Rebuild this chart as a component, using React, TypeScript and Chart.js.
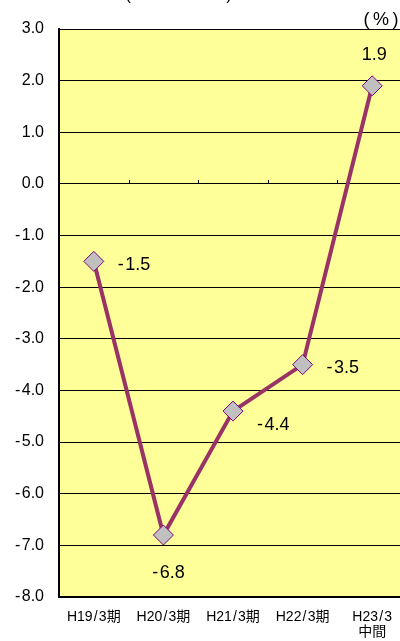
import { useEffect, useRef } from 'react';
import { Chart, registerables } from 'chart.js';

Chart.register(...registerables);

// Fiscal periods and the growth rate (%) for each
const periods: (string | string[])[] = ['H19/3期', 'H20/3期', 'H21/3期', 'H22/3期', ['H23/3', '中間']];
const growthRates = [-1.5, -6.8, -4.4, -3.5, 1.9];
const yMin = -8;
const yMax = 3;
const unitLabel = '(\u2009%\u2009)';

const FONT = 'Arial, "Liberation Sans", "Noto Sans CJK JP", sans-serif';

const fmt = (v: number) => (v < 0 ? '-\u200A' + Math.abs(v).toFixed(1) : v.toFixed(1));
const spaced = (s: string) => s.replace('/', '\u200A/\u200A');

// where each value label sits relative to its marker
const labelPlacement: { dx: number; dy: number; align: CanvasTextAlign }[] = [
  { dx: 24, dy: 4, align: 'left' },
  { dx: 5, dy: 38, align: 'center' },
  { dx: 24, dy: 14, align: 'left' },
  { dx: 24, dy: 3, align: 'left' },
  { dx: 2, dy: -31, align: 'center' },
];

const plotBackground = {
  id: 'plotBackground',
  beforeDraw(chart: Chart) {
    const { ctx, chartArea } = chart;
    ctx.save();
    ctx.fillStyle = '#FFFF99';
    ctx.fillRect(chartArea.left, chartArea.top, chartArea.right - chartArea.left, chartArea.bottom - chartArea.top);
    ctx.restore();
  },
};

const zeroAxisTicks = {
  id: 'zeroAxisTicks',
  beforeDatasetsDraw(chart: Chart) {
    const { ctx, chartArea, scales } = chart;
    const y0 = scales.y.getPixelForValue(0);
    const n = periods.length;
    const w = (chartArea.right - chartArea.left) / n;
    ctx.save();
    ctx.strokeStyle = '#000';
    ctx.lineWidth = 1;
    ctx.beginPath();
    for (let i = 1; i < n; i++) {
      const x = Math.round(chartArea.left + i * w) + 0.5;
      ctx.moveTo(x, y0 - 4);
      ctx.lineTo(x, y0);
    }
    ctx.stroke();
    ctx.restore();
  },
};

const valueLabels = {
  id: 'valueLabels',
  afterDatasetsDraw(chart: Chart) {
    const { ctx } = chart;
    const meta = chart.getDatasetMeta(0);
    ctx.save();
    ctx.fillStyle = '#000';
    ctx.font = `18px ${FONT}`;
    ctx.textBaseline = 'middle';
    meta.data.forEach((pt: any, i: number) => {
      const p = labelPlacement[i];
      ctx.textAlign = p.align;
      ctx.fillText(fmt(growthRates[i]), pt.x + p.dx, pt.y + p.dy);
    });
    ctx.restore();
  },
};

const captions = {
  id: 'captions',
  afterDraw(chart: Chart) {
    const { ctx } = chart;
    ctx.save();
    ctx.fillStyle = '#000';
    ctx.font = `18px ${FONT}`;
    ctx.textBaseline = 'middle';
    ctx.textAlign = 'center';
    ctx.fillText(unitLabel, 381, 20);
    ctx.font = `17px ${FONT}`;
    ctx.textBaseline = 'alphabetic';
    ctx.fillText('(', 128, 0);
    ctx.fillText(')', 229, 0);
    ctx.restore();
  },
};

export default function App() {
  const ref = useRef<HTMLCanvasElement | null>(null);

  useEffect(() => {
    if (!ref.current) return;
    const chart = new Chart(ref.current, {
      type: 'line',
      data: {
        labels: periods,
        datasets: [
          {
            data: growthRates,
            borderColor: '#993366',
            borderWidth: 4,
            pointStyle: 'rectRot',
            pointRadius: 10,
            pointBackgroundColor: '#C0C0C0',
            pointBorderColor: '#800080',
            pointBorderWidth: 1,
            tension: 0,
          },
        ],
      },
      options: {
        responsive: false,
        animation: false,
        devicePixelRatio: 1,
        layout: { autoPadding: false, padding: { top: 29, right: 0, left: 0, bottom: 0 } },
        plugins: {
          legend: { display: false },
          tooltip: { enabled: false },
        },
        scales: {
          x: {
            type: 'category',
            offset: true,
            grid: { display: false, drawTicks: false },
            border: { display: false },
            ticks: {
              color: '#000',
              font: { family: FONT, size: 14, lineHeight: 1.05 },
              padding: 13,
              maxRotation: 0,
              autoSkip: false,
              callback: (_v: any, i: number) => {
                const l = periods[i];
                return Array.isArray(l) ? [spaced(l[0]), ...l.slice(1)] : spaced(l);
              },
            },
            afterFit: (s: any) => {
              s.height = 44;
              s.paddingLeft = 0;
              s.paddingRight = 0;
            },
          },
          y: {
            min: yMin,
            max: yMax,
            grid: {
              color: '#000',
              lineWidth: (c: any) => (c.tick && c.tick.value === yMin ? 2 : 1),
              drawTicks: false,
            },
            border: { display: true, color: '#000', width: 2 },
            ticks: {
              stepSize: 1,
              color: '#000',
              font: { family: FONT, size: 16 },
              padding: 15,
              callback: (v: any) => fmt(Number(v)),
            },
            afterFit: (s: any) => {
              s.width = 59;
              s.paddingTop = 0;
              s.paddingBottom = 0;
            },
          },
        },
      },
      plugins: [plotBackground, zeroAxisTicks, valueLabels, captions],
    });
    return () => chart.destroy();
  }, []);

  return (
    <div style={{ position: 'absolute', left: 0, top: 0, width: 400, height: 641, overflow: 'hidden', background: '#fff' }}>
      <canvas ref={ref} width={407} height={641} style={{ display: 'block', width: 407, height: 641 }} />
    </div>
  );
}
